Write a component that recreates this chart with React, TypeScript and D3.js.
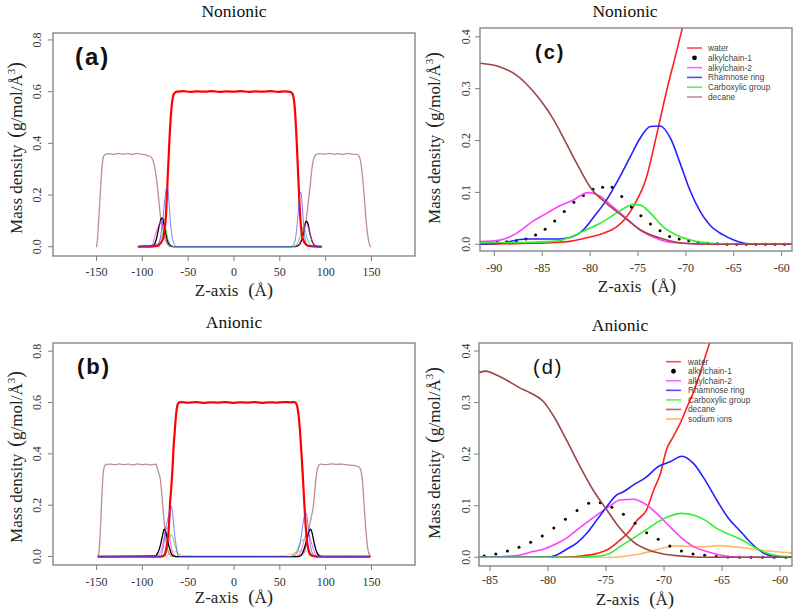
import React from "react";
import * as d3 from "d3";

type P = [number, number];

// ---------------- Nonionic data (z in Å, mass density) ----------------
const NON_RANGE = [-104, 95];
const nonWater: P[] = [[-91.5,0],[-88,0.001],[-86,0.002],[-84,0.003],[-82,0.006],[-80.5,0.012],[-79,0.019],[-77.2,0.034],[-76.3,0.05],[-75.5,0.072],[-74.1,0.13],[-73.1,0.207],[-72,0.297],[-71,0.37],[-70.2,0.43]];
const nonWaterCore: P[] = [[-69,0.5],[-68,0.545],[-67,0.572],[-66,0.588],[-64,0.597],[-62,0.6],[-55,0.602],[-48,0.599],[-40,0.601],[-32,0.6],[-24,0.602],[-16,0.599],[-8,0.601],[0,0.6],[8,0.602],[16,0.599],[24,0.601],[32,0.6],[40,0.602],[48,0.599],[56,0.601],[61,0.599],[63,0.595],[64.5,0.585],[65.5,0.565],[66.5,0.53],[67.5,0.47],[68.5,0.4],[69.5,0.32],[70.5,0.24],[71.5,0.165],[72.5,0.105],[73.5,0.065],[74.5,0.04],[76,0.022],[78,0.011],[80,0.005],[84,0.002],[90,0.0005],[95,0]];
const nonDecaneOuter: P[] = [[-150,0],[-149,0.03],[-148,0.08],[-147,0.14],[-146,0.2],[-145,0.26],[-144,0.31],[-143,0.34],[-142,0.352],[-140,0.358],[-136,0.36],[-131,0.357],[-126,0.361],[-121,0.358],[-116,0.36],[-111,0.357],[-106,0.361],[-101,0.358],[-97,0.356],[-94,0.352]];
const nonDecane: P[] = [[-91.5,0.349],[-89.4,0.342],[-87.7,0.326],[-86.7,0.31],[-85.2,0.278],[-83.8,0.24],[-82.5,0.195],[-81.4,0.156],[-79.8,0.105],[-78.3,0.079],[-76.5,0.053],[-74.8,0.028],[-72.7,0.012],[-71,0.004],[-69,0.001],[-66,0],[-58.9,0]];
const nonDecaneRight: P[] = [[60,0],[68,0.001],[71,0.006],[73,0.017],[75,0.04],[77.5,0.077],[80,0.14],[83,0.232],[85,0.3],[86.5,0.335],[88,0.35],[90,0.357],[94,0.36],[99,0.358],[104,0.361],[109,0.358],[114,0.36],[119,0.357],[124,0.361],[129,0.358],[134,0.357],[136,0.352],[137.5,0.34],[139,0.31],[140.5,0.26],[142,0.2],[143.5,0.13],[145,0.07],[146.5,0.03],[148,0.007],[149,0]];
const nonBlue: P[] = [[-91.5,0],[-89.4,0.002],[-86.7,0.01],[-83.5,0.01],[-82.1,0.013],[-80.7,0.028],[-79.6,0.053],[-78.3,0.085],[-76.9,0.13],[-75.8,0.169],[-74.8,0.204],[-73.7,0.227],[-72.7,0.228],[-71.6,0.204],[-70.6,0.156],[-69.6,0.105],[-68.5,0.063],[-67.5,0.037],[-66.1,0.018],[-65,0.008],[-63.6,0.001],[-62,0],[-58.9,0]];
const nonBlueRight: P[] = [[60,0],[63,0.002],[65,0.008],[67,0.03],[68.5,0.07],[69.5,0.11],[70.5,0.155],[71.5,0.195],[72.5,0.212],[73.5,0.2],[74.5,0.16],[75.5,0.105],[76.5,0.06],[77.5,0.03],[79,0.012],[81,0.005],[84,0.002],[88,0]];
const nonMagenta: P[] = [[-91.5,0.005],[-89.4,0.008],[-87.7,0.021],[-86,0.044],[-84.9,0.056],[-83.5,0.071],[-81.8,0.085],[-80.2,0.0995],[-79,0.093],[-77.6,0.072],[-76.2,0.05],[-74.8,0.028],[-73.3,0.013],[-72,0.005],[-70.3,0.002],[-68,0],[-58.9,0]];
const nonMagentaRight: P[] = [[62,0],[66,0.002],[70,0.006],[72,0.015],[74,0.035],[76,0.065],[77.5,0.085],[78.5,0.09],[80,0.085],[82,0.06],[84,0.035],[86,0.016],[88,0.006],[91,0.002],[95,0]];
const nonGreen: P[] = [[-91.5,0.003],[-86,0.004],[-83.5,0.006],[-81.8,0.016],[-80.4,0.028],[-79,0.04],[-77.6,0.056],[-76.5,0.069],[-75.5,0.077],[-74.8,0.076],[-73.7,0.06],[-72.4,0.034],[-71,0.018],[-69.3,0.007],[-67.5,0.002],[-65,0],[-58.9,0]];
const nonGreenRight: P[] = [[62,0],[66,0.002],[68,0.006],[70,0.018],[72,0.04],[74,0.065],[75.5,0.075],[77,0.07],[78.5,0.05],[80,0.03],[82,0.013],[84,0.005],[87,0.001],[90,0]];
const nonChain1: P[] = [[-90.7,0.004],[-89.7,0.004],[-88.7,0.005],[-87.7,0.007],[-86.7,0.01],[-85.7,0.018],[-84.7,0.029],[-83.7,0.045],[-82.7,0.063],[-81.7,0.081],[-80.7,0.094],[-79.7,0.106],[-78.7,0.11],[-77.7,0.11],[-76.7,0.092],[-75.7,0.072],[-74.7,0.055],[-73.7,0.039],[-72.7,0.026],[-71.7,0.015],[-70.7,0.01],[-69.7,0.007],[-68.7,0.004],[-67.7,0.002],[-66.7,0.001],[-65.7,0],[-64.7,0],[-63.7,0],[-62.7,0],[-61.7,0],[-60.7,0],[-59.7,0]];
const nonChain1Right: P[] = [[66,0],[70,0.005],[72,0.012],[74,0.03],[75.5,0.05],[77,0.08],[78,0.093],[79,0.098],[80,0.095],[81,0.085],[82,0.065],[84,0.035],[86,0.015],[88,0.005],[91,0.001],[95,0]];

// ---------------- Anionic data ----------------
const AN_RANGE = [-148, 148];
const anWater: P[] = [[-85.95,0],[-80,0],[-78,0.001],[-77,0.003],[-76,0.006],[-75.5,0.009],[-74.7,0.017],[-73.8,0.033],[-72.9,0.053],[-72.3,0.072],[-71.5,0.092],[-70.9,0.13],[-70.3,0.163],[-69.8,0.208],[-69.2,0.234],[-68.6,0.26],[-68,0.292],[-67.5,0.318],[-66.9,0.357],[-66,0.42],[-65.5,0.45]];
const anWaterCore: P[] = [[-65,0.47],[-64,0.52],[-63,0.56],[-62,0.585],[-61,0.597],[-59,0.602],[-50,0.6],[-42,0.602],[-34,0.599],[-26,0.601],[-18,0.6],[-10,0.602],[-2,0.599],[6,0.601],[14,0.6],[22,0.602],[30,0.599],[38,0.601],[46,0.6],[54,0.602],[62,0.601],[66,0.602],[67.5,0.598],[69,0.585],[70.5,0.55],[72,0.49],[73.5,0.41],[75,0.32],[76.5,0.22],[78,0.13],[79.5,0.065],[81,0.03],[82.5,0.012],[85,0.003],[90,0]];
const anDecaneOuter: P[] = [[-148,0],[-147,0.03],[-146,0.09],[-145,0.17],[-144,0.25],[-143,0.31],[-142,0.342],[-141,0.354],[-139,0.359],[-135,0.36],[-130,0.358],[-125,0.361],[-120,0.358],[-115,0.36],[-110,0.357],[-105,0.361],[-100,0.358],[-95,0.36],[-91,0.357],[-88,0.359]];
const anDecane: P[] = [[-85.95,0.358],[-85.4,0.361],[-84.4,0.353],[-83.3,0.34],[-82.4,0.328],[-81.55,0.319],[-80.4,0.302],[-79.5,0.273],[-78.4,0.227],[-77.24,0.176],[-76.1,0.13],[-74.94,0.092],[-73.8,0.056],[-72.65,0.03],[-71.5,0.0155],[-70.06,0.0064],[-68.6,0.0025],[-67.5,0.0005],[-66,0],[-58.97,0]];
const anDecaneRight: P[] = [[70,0],[74,0.004],[77,0.02],[79,0.05],[81,0.091],[83,0.13],[85,0.165],[86.5,0.195],[88,0.25],[90.2,0.325],[92,0.352],[94,0.36],[100,0.358],[106,0.361],[112,0.359],[118,0.36],[124,0.357],[130,0.355],[134,0.352],[136,0.35],[138,0.34],[140,0.3],[142,0.2],[144,0.1],[146,0.03],[148,0.005],[149,0]];
const anBlue: P[] = [[-85.95,0],[-80.1,0],[-79.25,0.0045],[-78.4,0.0155],[-77.5,0.028],[-76.66,0.0465],[-75.8,0.072],[-74.94,0.098],[-74.08,0.121],[-73.5,0.127],[-72.65,0.14],[-71.5,0.156],[-70.5,0.176],[-69.48,0.185],[-68.47,0.196],[-67.47,0.182],[-66.47,0.15],[-65.46,0.111],[-64.45,0.0756],[-63.4,0.05],[-62.6,0.03],[-61.4,0.0078],[-60.3,0.001],[-58.97,0]];
const anBlueRight: P[] = [[62,0],[66,0.004],[69,0.015],[71,0.035],[73,0.07],[75,0.12],[76.5,0.155],[77.5,0.168],[78.5,0.17],[79.5,0.16],[80.5,0.13],[82,0.08],[83.5,0.04],[85,0.018],[87,0.006],[90,0.001],[95,0]];
const anMagenta: P[] = [[-85.95,0],[-84.1,0.001],[-82.4,0.0045],[-81.3,0.011],[-80.4,0.0155],[-79.5,0.024],[-78.4,0.037],[-77.5,0.053],[-76.4,0.072],[-75.5,0.0865],[-74.66,0.0995],[-73.8,0.111],[-72.65,0.1125],[-71.5,0.1014],[-70.5,0.082],[-69.5,0.0593],[-68.47,0.037],[-67.47,0.0206],[-66.3,0.011],[-65.2,0.0045],[-64.1,0.001],[-62,0],[-58.97,0]];
const anMagentaRight: P[] = [[66,0],[70,0.005],[73,0.02],[75,0.045],[77,0.07],[79,0.088],[80.5,0.092],[82,0.085],[84,0.06],[86,0.035],[88,0.015],[90,0.005],[94,0]];
const anGreen: P[] = [[-85.95,0],[-77,0],[-76.7,0.001],[-75.5,0.0025],[-74.66,0.0078],[-73.8,0.0206],[-72.65,0.037],[-71.5,0.054],[-70.5,0.069],[-69.6,0.079],[-68.47,0.085],[-67.47,0.082],[-66.47,0.072],[-65.46,0.056],[-64.45,0.045],[-63.4,0.035],[-62.3,0.0206],[-61.1,0.0078],[-60,0.0025],[-58.97,0.001]];
const anGreenRight: P[] = [[60,0],[64,0.004],[67,0.015],[70,0.035],[72,0.052],[74,0.062],[76,0.066],[78,0.06],[80,0.045],[82,0.025],[84,0.01],[86,0.003],[90,0]];
const anSodium: P[] = [[-85.95,0],[-74.4,0],[-73.2,0.0025],[-72.1,0.0064],[-70.9,0.0128],[-69.8,0.0194],[-68.6,0.022],[-67.47,0.0206],[-66.3,0.0206],[-65.2,0.0225],[-64.1,0.0206],[-62.85,0.0174],[-61.7,0.014],[-60.5,0.011],[-58.97,0.008]];
const anSodiumCore: P[] = [[-55,0.004],[-45,0.002],[0,0.002],[45,0.002],[55,0.004]];
const anSodiumRight: P[] = [[60,0.008],[65,0.012],[70,0.018],[75,0.022],[80,0.02],[84,0.012],[88,0.005],[92,0.001],[100,0]];
const anChain1: P[] = [[-85.5,0.0025],[-84.5,0.0064],[-83.5,0.0122],[-82.5,0.0194],[-81.5,0.029],[-80.5,0.0413],[-79.5,0.0568],[-78.5,0.0737],[-77.5,0.0904],[-76.5,0.1047],[-75.5,0.1059],[-74.5,0.097],[-73.5,0.0834],[-72.5,0.0659],[-71.5,0.0477],[-70.5,0.035],[-69.5,0.022],[-68.5,0.0122],[-67.5,0.0064],[-66.5,0.0039],[-65.5,0.0013],[-64.5,0.0006],[-63.5,0],[-62.5,0],[-61.5,0],[-60.5,0],[-59.5,0]];
const anChain1Right: P[] = [[70,0],[73,0.005],[75,0.015],[77,0.035],[79,0.06],[81,0.088],[82.5,0.103],[83.6,0.107],[85,0.095],[86.5,0.07],[88,0.045],[90,0.02],[92,0.007],[95,0.001],[100,0]];

// ---------------- ticks & labels ----------------
const X_TICKS_FULL = [-150, -100, -50, 0, 50, 100, 150];
const Y_TICKS_FULL = [0, 0.2, 0.4, 0.6, 0.8];
const Y_TICKS_ZOOM = [0, 0.1, 0.2, 0.3, 0.4];
const NON_X_TICKS_ZOOM = [-90, -85, -80, -75, -70, -65, -60];
const AN_X_TICKS_ZOOM = [-85, -80, -75, -70, -65, -60];
const LEGEND_NAMES = ["water", "alkylchain-1", "alkylchain-2", "Rhamnose ring", "Carboxylic group", "decane", "sodium ions"];
const TITLES = ["Nonionic", "Anionic"];

const SERIF = "'Liberation Serif', 'Times New Roman', serif";
const SANS = "'Liberation Sans', Arial, sans-serif";

const C = {
  water: "#ff2020", chain1: "#000000", chain2: "#ff40ff", blue: "#2222ff",
  green: "#33ee33", decane: "#a04545", sodium: "#ffbb66",
};

interface Series { data: P[]; color: string; width: number; opacity?: number; dots?: boolean; r?: number; }
interface Layout {
  box: { l: number; r: number; t: number; b: number };
  xDomain: [number, number]; yDomain: [number, number];
  xTicks: number[]; yTicks: number[];
  title: string; titleX: number; titleY: number;
  tag: string; tagX: number; tagY: number; tagSize: number; tagWeight: string;
  yTickLabelX: number; yLabelX: number; yLabelY: number;
  xTickLabelY: number; xLabelX: number; xLabelY: number;
  legend?: { items: { name: string; color: string; dot?: boolean }[]; x1: number; x2: number; tx: number; y0: number; dy: number };
}

function Panel({ L, series, id }: { L: Layout; series: Series[]; id: string }) {
  const { box } = L;
  const x = d3.scaleLinear().domain(L.xDomain).range([box.l, box.r]);
  const y = d3.scaleLinear().domain(L.yDomain).range([box.b, box.t]);
  const line = d3.line<P>().x(d => x(d[0])).y(d => y(d[1])).curve(d3.curveMonotoneX);
  const axisColor = "#7f7f7f";
  return (
    <g>
      <defs>
        <clipPath id={id}>
          <rect x={box.l} y={box.t} width={box.r - box.l} height={box.b - box.t} />
        </clipPath>
      </defs>
      <g clipPath={`url(#${id})`}>
        {series.map((s, i) =>
          s.dots ? (
            <g key={i}>
              {s.data.map((d, j) => (
                <circle key={j} cx={x(d[0])} cy={y(d[1])} r={s.r ?? 1.5} fill={s.color} />
              ))}
            </g>
          ) : (
            <path key={i} d={line(s.data) ?? ""} fill="none" stroke={s.color} strokeWidth={s.width}
              strokeOpacity={s.opacity ?? 1} strokeLinejoin="round" strokeLinecap="round" />
          )
        )}
      </g>
      <rect x={box.l} y={box.t} width={box.r - box.l} height={box.b - box.t} fill="none" stroke={axisColor} strokeWidth={1.3} />
      {L.xTicks.map(t => (
        <g key={"x" + t}>
          <line x1={x(t)} x2={x(t)} y1={box.b} y2={box.b + 5} stroke={axisColor} strokeWidth={1} />
          <text x={x(t)} y={L.xTickLabelY} textAnchor="middle" fontFamily={SERIF} fontSize={12} fill="#333">{String(t)}</text>
        </g>
      ))}
      {L.yTicks.map(t => (
        <g key={"y" + t}>
          <line x1={box.l - 5} x2={box.l} y1={y(t)} y2={y(t)} stroke={axisColor} strokeWidth={1} />
          <text transform={`translate(${L.yTickLabelX},${y(t)}) rotate(-90)`} textAnchor="middle"
            fontFamily={SERIF} fontSize={12} fill="#333">{t.toFixed(1)}</text>
        </g>
      ))}
      <text x={L.titleX} y={L.titleY} textAnchor="middle" fontFamily={SERIF} fontSize={17.5} fill="#111">{L.title}</text>
      <text x={L.tagX} y={L.tagY} fontFamily={SANS} fontSize={L.tagSize} fontWeight={L.tagWeight} letterSpacing={2} fill="#111">{L.tag}</text>
      <text x={L.xLabelX} y={L.xLabelY} textAnchor="middle" fontFamily={SERIF} fontSize={17} fill="#222">
        <tspan>Z-axis</tspan>
        <tspan dx={10} fontSize={19}>(</tspan>
        <tspan>Å</tspan>
        <tspan fontSize={19}>)</tspan>
      </text>
      <text transform={`translate(${L.yLabelX},${L.yLabelY}) rotate(-90)`} textAnchor="middle" fontFamily={SERIF} fontSize={17} fill="#222">
        <tspan>Mass density</tspan>
        <tspan dx={7} fontSize={20}>(</tspan>
        <tspan>g/mol/Å</tspan>
        <tspan dy={-7} fontSize={11}>3</tspan>
        <tspan dy={7} fontSize={20}>)</tspan>
      </text>
      {L.legend && L.legend.items.map((it, i) => {
        const ly = L.legend!.y0 + i * L.legend!.dy;
        return (
          <g key={"lg" + i}>
            {it.dot ? (
              <circle cx={(L.legend!.x1 + L.legend!.x2) / 2} cy={ly} r={2.4} fill="#000" />
            ) : (
              <line x1={L.legend!.x1} x2={L.legend!.x2} y1={ly} y2={ly} stroke={it.color} strokeWidth={1.6} strokeOpacity={0.8} />
            )}
            <text x={L.legend!.tx} y={ly + 3} fontFamily={SANS} fontSize={8.3} fill="#444">{it.name}</text>
          </g>
        );
      })}
    </g>
  );
}

export default function App() {
  const legendItemsNon = [
    { name: LEGEND_NAMES[0], color: C.water },
    { name: LEGEND_NAMES[1], color: C.chain1, dot: true },
    { name: LEGEND_NAMES[2], color: C.chain2 },
    { name: LEGEND_NAMES[3], color: C.blue },
    { name: LEGEND_NAMES[4], color: C.green },
    { name: LEGEND_NAMES[5], color: "#b87070" },
  ];
  const legendItemsAn = [
    ...legendItemsNon.slice(0, 5),
    { name: LEGEND_NAMES[5], color: C.decane },
    { name: LEGEND_NAMES[6], color: "#ffaa33" },
  ];

  const LA: Layout = {
    box: { l: 53, r: 415, t: 33, b: 256 }, xDomain: [-197.5, 197.5], yDomain: [-0.036, 0.827],
    xTicks: X_TICKS_FULL, yTicks: Y_TICKS_FULL,
    title: TITLES[0], titleX: 234, titleY: 16.7,
    tag: "(a)", tagX: 75, tagY: 65, tagSize: 24, tagWeight: "bold",
    yTickLabelX: 41, yLabelX: 22, yLabelY: 148, xTickLabelY: 276, xLabelX: 234, xLabelY: 296,
  };
  const LB: Layout = {
    box: { l: 53, r: 415, t: 343, b: 565 }, xDomain: [-197.5, 197.5], yDomain: [-0.033, 0.832],
    xTicks: X_TICKS_FULL, yTicks: Y_TICKS_FULL,
    title: TITLES[1], titleX: 234, titleY: 328,
    tag: "(b)", tagX: 77, tagY: 374, tagSize: 22, tagWeight: "bold",
    yTickLabelX: 41, yLabelX: 22, yLabelY: 457, xTickLabelY: 585.7, xLabelX: 234, xLabelY: 603,
  };
  const LC: Layout = {
    box: { l: 480, r: 792, t: 28, b: 251 }, xDomain: [-91.5, -58.92], yDomain: [-0.013, 0.417],
    xTicks: NON_X_TICKS_ZOOM, yTicks: Y_TICKS_ZOOM,
    title: TITLES[0], titleX: 625, titleY: 16.7,
    tag: "(c)", tagX: 535, tagY: 59, tagSize: 20, tagWeight: "bold",
    yTickLabelX: 470, yLabelX: 440, yLabelY: 138, xTickLabelY: 272, xLabelX: 637, xLabelY: 291.5,
    legend: { items: legendItemsNon, x1: 687, x2: 702, tx: 708, y0: 48, dy: 9.8 },
  };
  const LD: Layout = {
    box: { l: 479, r: 792, t: 343, b: 566 }, xDomain: [-85.95, -58.97], yDomain: [-0.017, 0.4155],
    xTicks: AN_X_TICKS_ZOOM, yTicks: Y_TICKS_ZOOM,
    title: TITLES[1], titleX: 620, titleY: 331,
    tag: "(d)", tagX: 533, tagY: 374, tagSize: 20, tagWeight: "normal",
    yTickLabelX: 470, yLabelX: 440, yLabelY: 453, xTickLabelY: 584, xLabelX: 635, xLabelY: 604.5,
    legend: { items: legendItemsAn, x1: 666, x2: 681, tx: 688, y0: 361.7, dy: 9.55 },
  };

  const sA: Series[] = [
    { data: [...nonDecaneOuter, ...nonDecane, ...nonDecaneRight], color: "#bf8f8f", width: 1.3 },
    { data: [[NON_RANGE[0], 0], ...nonChain1, ...nonChain1Right, [NON_RANGE[1], 0]], color: "#000", width: 1.3 },
    { data: [[NON_RANGE[0], 0], ...nonMagenta, ...nonMagentaRight, [NON_RANGE[1], 0]], color: "#ff33ff", width: 1, opacity: 0.8 },
    { data: [[NON_RANGE[0], 0], ...nonGreen, ...nonGreenRight, [NON_RANGE[1], 0]], color: "#22dd22", width: 1, opacity: 0.8 },
    { data: [[NON_RANGE[0], 0], ...nonWater, ...nonWaterCore], color: "#ff0000", width: 2.2 },
    { data: [[NON_RANGE[0], 0], ...nonBlue, ...nonBlueRight, [NON_RANGE[1], 0]], color: "#4444ff", width: 1, opacity: 0.7 },
  ];
  const sB: Series[] = [
    { data: [[AN_RANGE[0], 0], ...anSodium, ...anSodiumCore, ...anSodiumRight, [AN_RANGE[1], 0]], color: "#ffb050", width: 1, opacity: 0.8 },
    { data: [...anDecaneOuter, ...anDecane, ...anDecaneRight], color: "#bf8f8f", width: 1.3 },
    { data: [[AN_RANGE[0], 0], ...anMagenta, ...anMagentaRight, [AN_RANGE[1], 0]], color: "#ff33ff", width: 1, opacity: 0.8 },
    { data: [[AN_RANGE[0], 0], ...anGreen, ...anGreenRight, [AN_RANGE[1], 0]], color: "#22dd22", width: 1, opacity: 0.8 },
    { data: [[AN_RANGE[0], 0], ...anChain1, ...anChain1Right, [AN_RANGE[1], 0]], color: "#000", width: 1.3 },
    { data: [[AN_RANGE[0], 0], ...anWater, ...anWaterCore, [AN_RANGE[1], 0]], color: "#ff0000", width: 2.2 },
    { data: [[AN_RANGE[0], 0], ...anBlue, ...anBlueRight, [AN_RANGE[1], 0]], color: "#4444ff", width: 1, opacity: 0.7 },
  ];
  const sC: Series[] = [
    { data: nonWater, color: C.water, width: 1.6 },
    { data: nonChain1, color: C.chain1, width: 0, dots: true, r: 1.5 },
    { data: nonMagenta, color: C.chain2, width: 1.6 },
    { data: nonBlue, color: C.blue, width: 1.6 },
    { data: nonGreen, color: C.green, width: 1.6 },
    { data: nonDecane, color: C.decane, width: 1.6 },
  ];
  const sD: Series[] = [
    { data: anSodium, color: C.sodium, width: 1.6 },
    { data: anWater, color: C.water, width: 1.6 },
    { data: anChain1, color: C.chain1, width: 0, dots: true, r: 1.5 },
    { data: anMagenta, color: C.chain2, width: 1.6 },
    { data: anBlue, color: C.blue, width: 1.6 },
    { data: anGreen, color: C.green, width: 1.6 },
    { data: anDecane, color: C.decane, width: 1.6 },
  ];

  return (
    <div style={{ position: "absolute", left: 0, top: 0 }}>
      <svg width={800} height={616} viewBox="0 0 800 616" style={{ display: "block", background: "#fff" }}>
        <rect x={0} y={0} width={800} height={616} fill="#fff" />
        <Panel L={LA} series={sA} id="clipA" />
        <Panel L={LB} series={sB} id="clipB" />
        <Panel L={LC} series={sC} id="clipC" />
        <Panel L={LD} series={sD} id="clipD" />
      </svg>
    </div>
  );
}
